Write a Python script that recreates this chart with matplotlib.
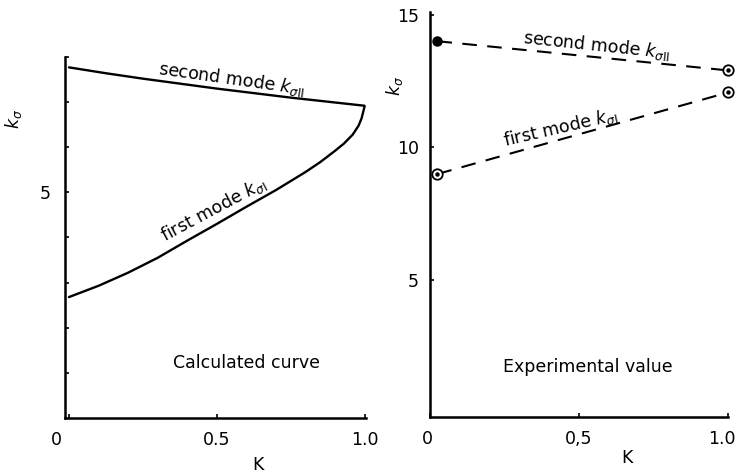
import matplotlib
matplotlib.use("Agg")
import matplotlib.pyplot as plt
from matplotlib.transforms import ScaledTranslation

plt.rcParams['font.family'] = ['DejaVu Sans']
plt.rcParams['mathtext.fontset'] = 'dejavusans'

# Calculated curve (left panel)
K_calc = [0.0, 0.1, 0.2, 0.3, 0.4, 0.5, 0.6, 0.7, 0.8, 0.85, 0.9, 0.93, 0.96, 0.98, 0.99, 1.0]
k_first_calc = [2.68, 2.93, 3.22, 3.55, 3.93, 4.30, 4.68, 5.05, 5.45, 5.67, 5.92, 6.08, 6.28, 6.48, 6.64, 6.90]
K_calc2 = [0.0, 0.125, 0.25, 0.375, 0.5, 0.625, 0.75, 0.875, 1.0]
k_second_calc = [7.77, 7.64, 7.52, 7.41, 7.30, 7.20, 7.10, 7.01, 6.92]

# Experimental values (right panel)
K_exp = [0.025, 1.0]
k_first_exp = [9.0, 12.07]
k_second_exp = [14.0, 12.9]

left_yticks = [1, 2, 3, 4, 5, 6, 7, 8]
left_yticklabels = ['', '', '', '', '5', '', '', '']
left_xticks = [0, 0.5, 1.0]
left_xticklabels = ['0', '0.5', '1.0']
right_yticks = [5, 10, 15]
right_yticklabels = ['5', '10', '15']
right_xticks = [0, 0.5, 1.0]
right_xticklabels = ['0', '0,5', '1.0']

FS = 12.5
fig = plt.figure(figsize=(7.36, 4.73), dpi=100)

def shift(label, dx_px, dy_px=0):
    label.set_transform(label.get_transform() +
                        ScaledTranslation(dx_px/100, dy_px/100, fig.dpi_scale_trans))

# ---------- left panel ----------
ax1 = fig.add_axes([65/736, 55/473, 301/736, 361/473])
ax1.plot(K_calc2, k_second_calc, color='black', lw=1.7, solid_joinstyle='round', solid_capstyle='round')
ax1.plot(K_calc, k_first_calc, color='black', lw=1.7, solid_joinstyle='round', solid_capstyle='round')
ax1.set_xlim(-0.0135, 1.005)
ax1.set_ylim(0, 8.0)
ax1.set_yticks(left_yticks)
ax1.set_yticklabels(left_yticklabels, fontsize=FS)
ax1.set_xticks(left_xticks)
ax1.set_xticklabels(left_xticklabels, fontsize=FS)
ax1.tick_params(direction='in', length=3, width=1.2, pad=9)
ax1.tick_params(axis='y', pad=10)
for lab in ax1.get_xticklabels():
    if lab.get_text() == '0':
        shift(lab, -13)
for s in ['top', 'right']:
    ax1.spines[s].set_visible(False)
for s in ['left', 'bottom']:
    ax1.spines[s].set_linewidth(1.8)
ax1.set_xlabel('K', fontsize=FS)
ax1.xaxis.set_label_coords(0.64, -0.105)
ax1.set_ylabel(r'$k_\sigma$', fontsize=FS, rotation=90)
ax1.yaxis.set_label_coords(-0.135, 0.828)
ax1.text(0.55, 7.52, r'second mode $k_{\sigma\mathrm{II}}$', fontsize=FS, rotation=-8,
         ha='center', va='center')
ax1.text(0.49, 4.62, r'first mode $k_{\sigma\mathrm{I}}$', fontsize=FS, rotation=28,
         ha='center', va='center')
ax1.text(0.60, 1.22, 'Calculated curve', fontsize=FS, ha='center', va='center')

# ---------- right panel ----------
ax2 = fig.add_axes([430/736, 56/473, 298/736, 405/473])
dash = (7, 5)
ax2.plot(K_exp, k_second_exp, color='black', lw=1.5, linestyle=(0, dash))
ax2.plot(K_exp, k_first_exp, color='black', lw=1.5, linestyle=(0, dash))
# markers: circle with centre dot
ax2.plot(K_exp[1:], k_second_exp[1:], linestyle='none', marker='o', ms=7.5,
         mfc='white', mec='black', mew=1.3, zorder=3, clip_on=False)
ax2.plot(K_exp[:1], k_second_exp[:1], linestyle='none', marker='o', ms=6.5,
         mfc='black', mec='black', zorder=3, clip_on=False)
ax2.plot(K_exp, k_first_exp, linestyle='none', marker='o', ms=7.5,
         mfc='white', mec='black', mew=1.3, zorder=3, clip_on=False)
ax2.plot(K_exp[1:], k_second_exp[1:], linestyle='none', marker='o', ms=2.2,
         mfc='black', mec='black', zorder=4, clip_on=False)
ax2.plot(K_exp, k_first_exp, linestyle='none', marker='o', ms=2.2,
         mfc='black', mec='black', zorder=4, clip_on=False)
ax2.set_xlim(0, 1.0)
ax2.set_ylim(-0.15, 15.1)
ax2.set_yticks(right_yticks)
ax2.set_yticklabels(right_yticklabels, fontsize=FS)
ax2.set_xticks(right_xticks)
ax2.set_xticklabels(right_xticklabels, fontsize=FS)
ax2.tick_params(direction='in', length=3, width=1.2, pad=9)
ax2.tick_params(axis='y', pad=8)
for lab in ax2.get_xticklabels():
    if lab.get_text() == '1.0':
        shift(lab, -6)
    elif lab.get_text() == '0':
        shift(lab, -3)
for s in ['top', 'right']:
    ax2.spines[s].set_visible(False)
for s in ['left', 'bottom']:
    ax2.spines[s].set_linewidth(1.8)
ax2.set_xlabel('K', fontsize=FS)
ax2.xaxis.set_label_coords(0.66, -0.08)
ax2.set_ylabel(r'$k_\sigma$', fontsize=FS, rotation=90)
ax2.yaxis.set_label_coords(-0.084, 0.817)
ax2.text(0.56, 13.85, r'second mode $k_{\sigma\mathrm{II}}$', fontsize=FS, rotation=-6,
         ha='center', va='center')
ax2.text(0.436, 10.75, r'first mode $k_{\sigma\mathrm{I}}$', fontsize=FS, rotation=13,
         ha='center', va='center')
ax2.text(0.53, 1.73, 'Experimental value', fontsize=FS, ha='center', va='center')

fig.savefig('out.png', dpi=100)
